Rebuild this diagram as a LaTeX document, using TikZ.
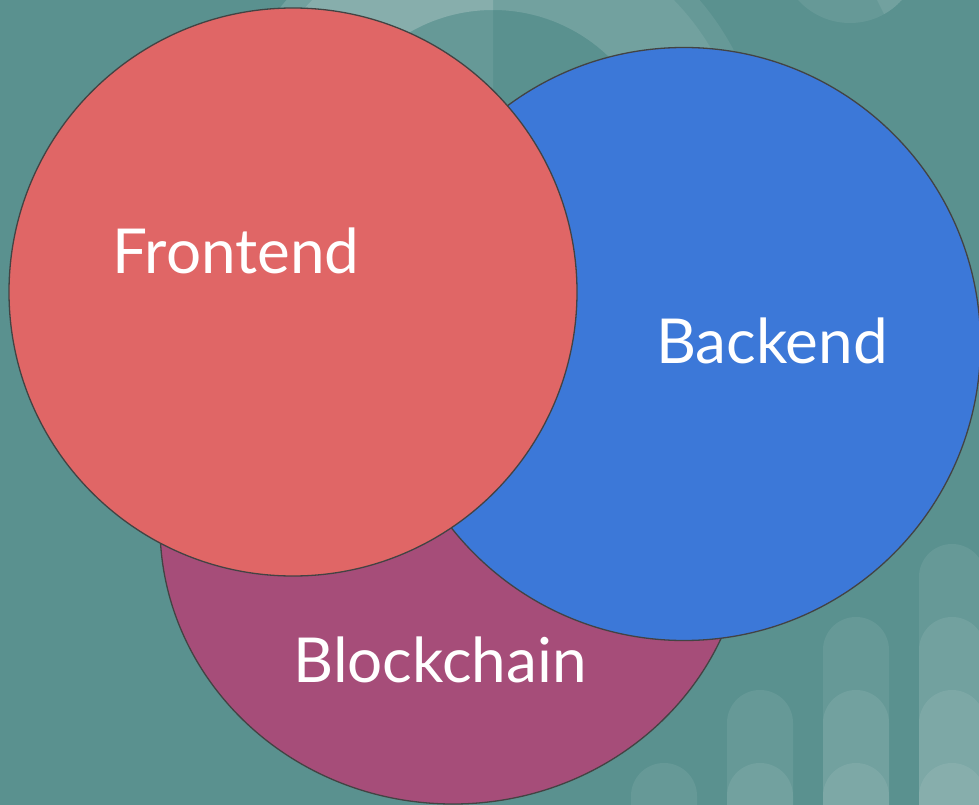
\documentclass[tikz,border=0pt]{standalone}
\usepackage{fontspec}
\setmainfont{Lato}
\usetikzlibrary{shapes.geometric}
\definecolor{bgteal}{HTML}{5A918F}
\definecolor{frontred}{HTML}{E06666}
\definecolor{backblue}{HTML}{3C78D8}
\definecolor{chainpurple}{HTML}{A64D79}
\definecolor{rim}{HTML}{434343}
\tikzstyle{blob}=[ellipse,draw=rim,line width=1.3pt,inner sep=0pt]
\tikzstyle{word}=[text=white,font=\fontsize{62}{62}\selectfont,anchor=base,inner sep=0pt]
\tikzstyle{glow}=[fill=white,fill opacity=0.08]

\begin{document}
\begin{tikzpicture}[x=1pt,y=-1pt]
\useasboundingbox (0,0) rectangle (979,805);
\clip (0,0) rectangle (979,805);
\fill[bgteal] (0,0) rectangle (979,805);

% rings at the top
\fill[glow,even odd rule] (493,177) circle[radius=272pt] (493,177) circle[radius=167pt];
\fill[glow,even odd rule] (493,177) circle[radius=253pt] (493,177) circle[radius=167pt];
\begin{scope}
\clip (0,0) rectangle (493,805);
\fill[glow] (493,177) circle[radius=272pt];
\fill[glow,even odd rule] (493,177) circle[radius=253pt] (493,177) circle[radius=167pt];
\end{scope}
\begin{scope}
\clip (850,-47) circle[radius=70pt];
\fill[glow] (850,-47) circle[radius=70pt];
\fill[glow] (874,-6) -- (890,26) -- (930,26) -- (930,-6) -- cycle;
\end{scope}

% bars at the bottom
\foreach \col in {0,...,3}
  \foreach \k in {0,...,\col}
    \fill[glow,rounded corners=33pt] ({631+96*\col},850) rectangle ({697+96*\col},{763-73*\k});

\node[blob,fill=chainpurple,minimum width=586pt,minimum height=556pt] (chain) at (453,526) {};
\node[blob,fill=backblue,minimum size=593pt] (back) at (684,344) {};
\node[blob,fill=frontred,minimum size=568pt] (front) at (293,292) {};

\node[word] (frontlabel) at (236,273) {Frontend};
\node[word] (backlabel) at (772,363) {Backend};
\node[word] (chainlabel) at (440,682) {Blockchain};
\end{tikzpicture}
\end{document}
